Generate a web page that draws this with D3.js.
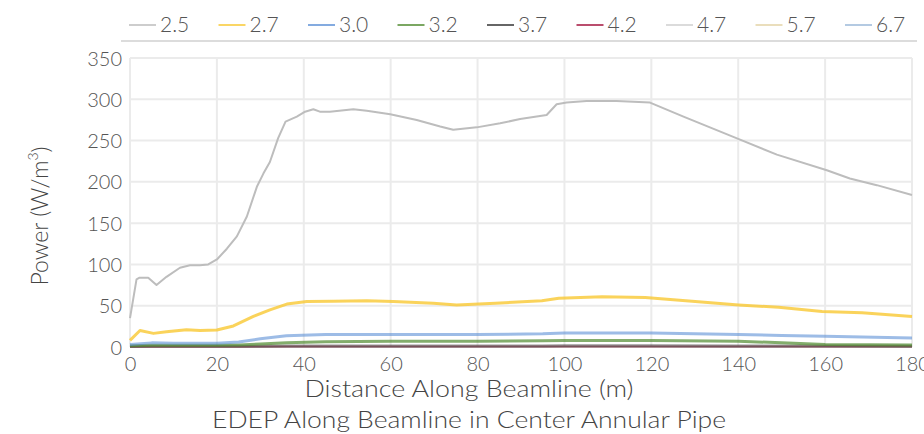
<!DOCTYPE html>
<html><head><meta charset="utf-8">
<script src="https://cdn.jsdelivr.net/npm/d3@7"></script>
<style>
html,body{margin:0;padding:0;background:#fff;}
svg text{font-family:Lato,"Open Sans",sans-serif;font-weight:300;fill:#555;}
</style></head>
<body><svg id="c" width="924" height="434"></svg>
<script>
const seriesNames = ["2.5","2.7","3.0","3.2","3.7","4.2","4.7","5.7","6.7"];
const seriesColors = ["#bdbdbd","#f9c832","#5b8fd6","#4f8a2e","#333333","#a3123c","#cfcfcf","#e3d3a6","#9bb8d8"];
const xTicks = [0,20,40,60,80,100,120,140,160,180];
const yTicks = [0,50,100,150,200,250,300,350];

const dist25 = [0,1.5,2.2,4.2,6.1,8.4,11.5,13.8,16.1,18,20,22.3,24.6,26.9,29.2,30.7,32.2,34.1,35.8,38.4,40.3,42.2,43.7,46,51.4,54.5,59.9,66,71.4,74.4,79.8,85.2,89.8,95.9,98.2,100.5,105.1,112,119.7,127.4,140,148.9,160.4,165.7,171.9,180];
const pow25  = [35,82,84,84,75,85,96,99,99,100,106,119,134,158,194,210,224,253,273,279,285,288,285,285,288,286,282,275,267,263,266,271,276,281,294,296,298,298,296,279,252,233,214,204,196,184];

const dist27 = [0,2.3,5.4,8.4,13,16.1,20,23.8,28.4,32.2,36.1,40.7,46.8,54.5,60.6,69.8,75.2,84.1,94.8,98.7,108.7,118.6,130.1,140.1,149.3,159.3,168.5,180];
const pow27  = [8,20,16.5,18.5,21,20,20.5,25.5,37,45,52,55,55.5,56,55,53,51,53,56,59,61,60,55,51,48,43,41.5,37];

const distLow = [0,5,10,20,25,30,36,45,60,80,95,100,120,140,150,160,180];
const pow30 = [3,5,4.5,4.5,6,10,13.5,15,15,15,16,17,17,15,14,13,11];
const pow32 = [1.5,2,2,2,2.5,3.5,5,6.5,7,7,7.5,8,8,7,5,3,2.5];
const pow37 = [0.6,0.8,0.8,0.8,0.9,1,1.2,1.3,1.3,1.3,1.3,1.4,1.4,1.3,1.2,1.1,1];
const pow42 = [0.3,0.4,0.4,0.4,0.4,0.5,0.6,0.6,0.6,0.6,0.6,0.7,0.7,0.6,0.6,0.5,0.5];
const pow47 = [0.2,0.2,0.2,0.2,0.2,0.3,0.3,0.3,0.3,0.3,0.3,0.4,0.4,0.3,0.3,0.3,0.3];
const pow57 = [0.1,0.1,0.1,0.1,0.1,0.1,0.2,0.2,0.2,0.2,0.2,0.2,0.2,0.2,0.2,0.1,0.1];
const pow67 = [0.05,0.05,0.05,0.05,0.05,0.05,0.1,0.1,0.1,0.1,0.1,0.1,0.1,0.1,0.1,0.05,0.05];

const seriesData = [
  [dist25,pow25],[dist27,pow27],[distLow,pow30],[distLow,pow32],[distLow,pow37],
  [distLow,pow42],[distLow,pow47],[distLow,pow57],[distLow,pow67]
];

const svg = d3.select("#c");
const x = d3.scaleLinear().domain([0,180]).range([130,912]);
const y = d3.scaleLinear().domain([0,350]).range([347,58]);

// grid
svg.append("g").selectAll("line").data(xTicks).join("line")
  .attr("x1",d=>x(d)).attr("x2",d=>x(d)).attr("y1",y(350)).attr("y2",y(0))
  .attr("stroke","#ebebeb").attr("stroke-width",2);
svg.append("g").selectAll("line").data(yTicks).join("line")
  .attr("x1",x(0)).attr("x2",x(180)).attr("y1",d=>y(d)).attr("y2",d=>y(d))
  .attr("stroke","#ebebeb").attr("stroke-width",2);

// axes labels
const xAxis = d3.axisBottom(x).tickValues(xTicks).tickSize(0).tickPadding(0);
const gx = svg.append("g").attr("transform",`translate(0,${y(0)+10})`).call(xAxis);
gx.select(".domain").remove();
gx.selectAll("text").attr("font-size",20).attr("dy","0.71em").attr("fill","#555");

const yAxis = d3.axisLeft(y).tickValues(yTicks).tickSize(0).tickPadding(0);
const gy = svg.append("g").attr("transform",`translate(122,0)`).call(yAxis);
gy.select(".domain").remove();
gy.selectAll("text").attr("font-size",20).attr("dy","0.35em").attr("fill","#555");

// lines
const line = d3.line().x(d=>x(d[0])).y(d=>y(d[1])).curve(d3.curveLinear);
const order = [8,7,6,5,4,3,2,1,0];
const widths = [2,3,3,3,3,2,2,2,2];
const opac = [1,0.8,0.6,0.7,0.5,0.5,0.5,0.5,0.5];
order.forEach(i=>{
  const [xs,ys] = seriesData[i];
  const pts = xs.map((v,k)=>[v,ys[k]]);
  svg.append("path").datum(pts).attr("d",line)
    .attr("fill","none").attr("stroke",seriesColors[i])
    .attr("stroke-width",widths[i]).attr("stroke-opacity",opac[i])
    .attr("stroke-linejoin","round");
});

// legend
svg.append("line").attr("x1",121).attr("x2",917).attr("y1",41).attr("y2",41)
  .attr("stroke","#dcdcdc").attr("stroke-width",2);
const lx = d3.scalePoint().domain(seriesNames).range([129,845]);
const lg = svg.append("g").selectAll("g").data(seriesNames).join("g")
  .attr("transform",d=>`translate(${lx(d)},25)`);
lg.append("line").attr("x1",0).attr("x2",27).attr("y1",0).attr("y2",0)
  .attr("stroke",(d,i)=>seriesColors[i]).attr("stroke-width",1.5);
lg.append("text").attr("x",31).attr("dy","0.35em").attr("font-size",21).text(d=>d);

// titles
svg.append("text").attr("x",469).attr("y",389).attr("dy","0.35em")
  .attr("text-anchor","middle").attr("font-size",24).style("fill","#444")
  .attr("textLength",329).attr("lengthAdjust","spacingAndGlyphs")
  .text("Distance Along Beamline (m)");
svg.append("text").attr("x",469).attr("y",420).attr("dy","0.35em")
  .attr("text-anchor","middle").attr("font-size",24).style("fill","#444")
  .attr("textLength",514).attr("lengthAdjust","spacingAndGlyphs")
  .text("EDEP Along Beamline in Center Annular Pipe");
const yt = svg.append("text").attr("transform","translate(40,216) rotate(-90)")
  .attr("dy","0.35em").attr("text-anchor","middle").attr("font-size",23).style("fill","#444");
yt.append("tspan").text("Power (W/m");
yt.append("tspan").attr("font-size",14).attr("dy","-0.7em").text("3");
yt.append("tspan").attr("font-size",23).attr("dy","0.45em").text(")");
</script></body></html>
